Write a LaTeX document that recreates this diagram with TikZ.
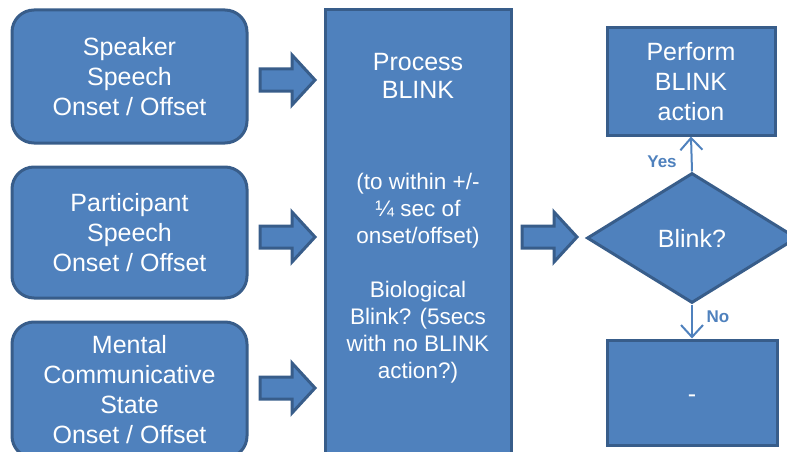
\documentclass[tikz,border=0pt]{standalone}
\usepackage{fontspec}
\setmainfont{Liberation Sans}
\usetikzlibrary{shapes.geometric,arrows.meta}
\definecolor{boxfill}{HTML}{4F81BD}
\definecolor{boxline}{HTML}{385D8A}
\begin{document}
\begin{tikzpicture}[x=1pt,y=-1pt,
  box/.style={draw=boxline,fill=boxfill,line width=3pt,text=white,align=center,inner sep=0pt,
    font=\fontsize{25}{30}\selectfont},
  rbox/.style={box,rounded corners=22pt},
  ctext/.style={text=white,align=center,inner sep=0pt,font=\fontsize{22.5}{27}\selectfont},
  conn/.style={draw=boxfill,line width=2pt,-{Straight Barb[length=12pt,width=22pt,line width=2pt]}},
  lbl/.style={text=boxfill,inner sep=0pt,font=\fontsize{17}{20}\bfseries\selectfont},
  barrow/.pic={\draw[draw=boxline,fill=boxfill,line width=3pt,line join=miter]
     (0,-11) -- (32,-11) -- (32,-25) -- (55,0) -- (32,25) -- (32,11) -- (0,11) -- cycle;}
]
\useasboundingbox (0,0) rectangle (787,452);
\clip (0,0) rectangle (787,452);
\node[rbox,minimum width=235pt,minimum height=133pt] (spk) at (129.5,76.5) {Speaker\\Speech\\Onset / Offset};
\node[rbox,minimum width=235pt,minimum height=131pt] (par) at (129.5,232.5) {Participant\\Speech\\Onset / Offset};
\node[rbox,minimum width=235pt,minimum height=136pt] (men) at (129.5,390) {Mental\\Communicative\\State\\Onset / Offset};
\node[box,minimum width=186pt,minimum height=452pt] (proc) at (418,236) {};
\node[ctext,font=\fontsize{25}{28}\selectfont] (ptitle) at (418,76) {Process\\BLINK};
\node[ctext] (pdesc) at (418,278.5) {(to within +/-\\¼ sec of\\onset/offset)\\[27pt]Biological\\Blink? (5secs\\with no BLINK\\action?)};
\pic at (260,80) {barrow};
\pic at (260,237) {barrow};
\pic at (260,388) {barrow};
\pic at (522,237) {barrow};
\node[box,diamond,minimum width=210pt,minimum height=130pt] (dia) at (692,238) {Blink?};
\node[box,minimum width=168pt,minimum height=107pt] (perf) at (691,81.5) {Perform\\BLINK\\action};
\node[box,minimum width=170pt,minimum height=105pt] (none) at (692,392.5) {\raisebox{-10pt}[0pt][0pt]{-}};
\draw[conn] (dia.north) -- (perf.south);
\draw[conn] (dia.south) -- (none.north);
\node[lbl] (yes) at (662,162) {Yes};
\node[lbl] (no) at (718,317) {No};
\end{tikzpicture}
\end{document}
